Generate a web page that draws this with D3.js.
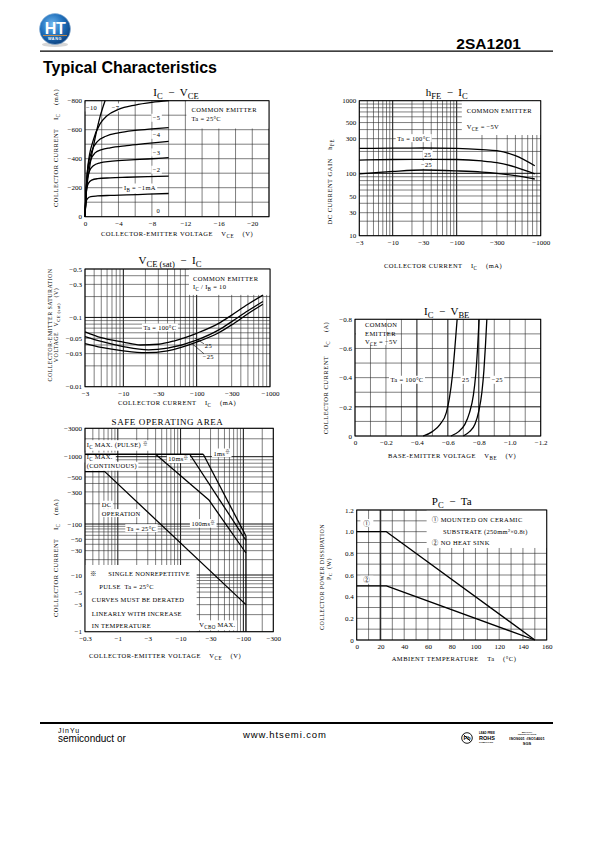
<!DOCTYPE html>
<html><head><meta charset="utf-8">
<script src="https://cdn.jsdelivr.net/npm/d3@7"></script>
<style>
body{margin:0;background:#fff}
svg{display:block;background:#fff}
text{font-family:"Liberation Serif","Noto Sans CJK JP",serif;fill:#000;white-space:pre}
text.sans{font-family:"Liberation Sans",Arial,sans-serif}
</style></head><body>
<svg id="page" width="595" height="842"></svg>
<script>
// ================= DATA =================
// Chart 1: IC - VCE  (VCE in V, IC in mA), Ta = 25°C
const icVceIB1  = [[0,0],[-0.1,-95],[-0.3,-125],[-0.7,-138],[-1.5,-143],[-3,-147],[-5,-150],[-7.5,-155],[-10,-160]];
const icVceIB2  = [[0,0],[-0.15,-170],[-0.4,-230],[-0.8,-252],[-1.5,-262],[-3,-268],[-5,-272],[-7.5,-276],[-10,-280]];
const icVceIB3  = [[0,0],[-0.2,-230],[-0.5,-310],[-1,-352],[-1.8,-372],[-3,-382],[-5,-390],[-7.5,-398],[-10,-407]];
const icVceIB4  = [[0,0],[-0.25,-280],[-0.6,-380],[-1.2,-440],[-2,-462],[-3,-475],[-5,-490],[-7.5,-505],[-10,-520]];
const icVceIB5  = [[0,0],[-0.3,-320],[-0.8,-450],[-1.5,-520],[-2.5,-555],[-4,-578],[-6,-595],[-8,-606],[-10,-615]];
const icVceIB7  = [[0,0],[-0.35,-350],[-1,-530],[-1.8,-640],[-2.6,-695],[-4,-740],[-6,-770],[-8,-788],[-10,-800]];
const icVceIB10 = [[0,0],[-0.15,-160],[-0.5,-320],[-1.2,-540],[-1.8,-690],[-2.4,-800]];
const icVceXTicks = [0,-4,-8,-12,-16,-20];
const icVceYTicks = [0,-200,-400,-600,-800];

// Chart 2: hFE - IC  (IC in mA), VCE = -5V
const hfeTa100 = [[-3,220],[-10,222],[-30,223],[-100,220],[-200,212],[-300,205],[-500,175],[-850,127]];
const hfeTa25  = [[-3,152],[-10,155],[-30,156],[-100,155],[-200,148],[-300,140],[-500,122],[-850,98]];
const hfeTaM25 = [[-3,98],[-10,106],[-30,111],[-100,108],[-200,104],[-300,100],[-500,93],[-850,84]];
const hfeXTicks = [-3,-10,-30,-100,-300,-1000];
const hfeYTicks = [1000,500,300,100,50,30,10];

// Chart 3: VCE(sat) - IC  (IC in mA, VCE in V), IC/IB = 10
const satTa100 = [[-3,-0.062],[-5,-0.051],[-10,-0.044],[-17,-0.040],[-30,-0.041],[-50,-0.046],[-100,-0.059],[-200,-0.082],[-300,-0.108],[-500,-0.155],[-800,-0.21]];
const satTa25  = [[-3,-0.053],[-5,-0.045],[-10,-0.038],[-22,-0.034],[-40,-0.036],[-100,-0.047],[-200,-0.066],[-300,-0.087],[-500,-0.125],[-800,-0.17]];
const satTaM25 = [[-3,-0.042],[-5,-0.037],[-10,-0.033],[-20,-0.031],[-40,-0.033],[-100,-0.044],[-200,-0.06],[-300,-0.078],[-500,-0.113],[-800,-0.155]];
const satXTicks = [-3,-10,-30,-100,-300,-1000];
const satYTicks = [-0.5,-0.3,-0.1,-0.05,-0.03,-0.01];

// Chart 4: IC - VBE  (VBE in V, IC in A), VCE = -5V
const vbeTa100 = [[-0.44,0],[-0.5,-0.03],[-0.55,-0.08],[-0.59,-0.16],[-0.61,-0.26],[-0.63,-0.42],[-0.645,-0.6],[-0.66,-0.8]];
const vbeTa25  = [[-0.62,0],[-0.67,-0.03],[-0.71,-0.08],[-0.74,-0.16],[-0.765,-0.28],[-0.78,-0.42],[-0.792,-0.6],[-0.802,-0.8]];
const vbeTaM25 = [[-0.70,0],[-0.74,-0.03],[-0.775,-0.08],[-0.8,-0.17],[-0.82,-0.3],[-0.833,-0.45],[-0.843,-0.62],[-0.852,-0.8]];
const vbeXTicks = [0,-0.2,-0.4,-0.6,-0.8,-1.0,-1.2];
const vbeYTicks = [0,-0.2,-0.4,-0.6,-0.8];

// Chart 5: Safe operating area (VCE in V, IC in mA)
const soaPulse = [[-0.3,-1100],[-23,-1100]];
const soa1ms   = [[-23,-1100],[-110,-58]];
const soa10ms  = [[-14,-1100],[-110,-48]];
const soa100ms = [[-4,-1100],[-28,-230],[-110,-27]];
const soaDC    = [[-0.3,-600],[-0.62,-600],[-110,-3]];
const soaVcbo  = [[-110,-58],[-110,-1]];
const soaXTicks = [-0.3,-1,-3,-10,-30,-100,-300];
const soaYTicks = [-3000,-1000,-500,-300,-100,-50,-30,-10,-5,-3,-1];

// Chart 6: PC - Ta (Ta in °C, PC in W)
const pcCeramic = [[0,1.0],[25,1.0],[150,0]];
const pcNoSink  = [[0,0.5],[25,0.5],[150,0]];
const pcXTicks = [0,20,40,60,80,100,120,140,160];
const pcYTicks = [0,0.2,0.4,0.6,0.8,1.0,1.2];

// ================= HELPERS =================
const page = d3.select("#page");
const MINUS = "\u2212";
const fmt  = v => v < 0 ? MINUS + Math.abs(v) : String(v);
const fmt1 = v => v === 0 ? "0" : (v < 0 ? MINUS : "") + Math.abs(v).toFixed(1);
const near = (a, arr) => arr.some(b => Math.abs(a - b) < 1e-9 * Math.max(1, Math.abs(b)));
function logGrid(lo, hi, sign){
  const out = [];
  for (let k = -3; k <= 4; k++) for (let m = 1; m < 10; m++){
    const v = +(m * Math.pow(10, k)).toPrecision(3);
    if (v >= lo * 0.999 && v <= hi * 1.001) out.push(sign * v);
  }
  return out;
}
function rich(g, x, y, parts, o = {}){
  const s = o.size || 6.5;
  const t = g.append("text").attr("x", x).attr("y", y).attr("font-size", s)
    .attr("text-anchor", o.anchor || "start");
  if (o.ls != null) t.attr("letter-spacing", o.ls);
  if (o.weight) t.attr("font-weight", o.weight);
  if (o.rotate) t.attr("transform", `rotate(-90 ${x} ${y})`);
  let cur = 0;
  parts.forEach(p => {
    if (typeof p === "string") p = {t: p};
    const ts = t.append("tspan").text(p.t);
    const off = p.sub ? s * 0.3 : p.sup ? -s * 0.4 : 0;
    if (off !== cur){ ts.attr("dy", off - cur); cur = off; }
    if (p.sub || p.sup) ts.attr("font-size", s * (p.scale || 0.78));
  });
  return t;
}
function makeChart(c){
  const xr = c.x.range(), yr = c.y.range();
  c.L = d3.min(xr); c.R = d3.max(xr); c.T = d3.min(yr); c.B = d3.max(yr);
  c.g = page.append("g");
  c.gGrid = c.g.append("g"); c.gBg = c.g.append("g"); c.gCurve = c.g.append("g"); c.gText = c.g.append("g");
  const majX = c.xMajor || c.xTicks, majY = c.yMajor || c.yTicks;
  c.gGrid.selectAll("line.gx").data(c.xGrid).join("line").attr("class","gx")
    .attr("x1", d => c.x(d)).attr("x2", d => c.x(d)).attr("y1", c.T).attr("y2", c.B)
    .attr("stroke", d => near(d, majX) ? "#000" : "#2a2a2a")
    .attr("stroke-width", d => (c.heavyX && near(d, c.heavyX)) ? 1.6 : near(d, majX) ? 0.95 : 0.6);
  c.gGrid.selectAll("line.gy").data(c.yGrid).join("line").attr("class","gy")
    .attr("y1", d => c.y(d)).attr("y2", d => c.y(d)).attr("x1", c.L).attr("x2", c.R)
    .attr("stroke", d => near(d, majY) ? "#000" : "#2a2a2a")
    .attr("stroke-width", d => near(d, majY) ? 0.95 : 0.6);
  c.g.append("rect").attr("x", c.L).attr("y", c.T).attr("width", c.R - c.L).attr("height", c.B - c.T)
    .attr("fill", "none").attr("stroke", "#000").attr("stroke-width", 1);
  const ax = c.g.append("g").attr("transform", `translate(0,${c.B})`)
    .call(d3.axisBottom(c.x).tickValues(c.xTicks).tickFormat(c.xFmt).tickSize(0).tickPadding(4));
  ax.select(".domain").remove(); ax.attr("font-size", 7);
  const ay = c.g.append("g").attr("transform", `translate(${c.L},0)`)
    .call(d3.axisLeft(c.y).tickValues(c.yTicks).tickFormat(c.yFmt).tickSize(0).tickPadding(3));
  ay.select(".domain").remove(); ay.attr("font-size", 7);
  return c;
}
const P = (c, fx, fy) => [c.L + fx * (c.R - c.L), c.T + fy * (c.B - c.T)];
function box(c, fx0, fy0, fx1, fy1){
  const [x0, y0] = P(c, fx0, fy0), [x1, y1] = P(c, fx1, fy1);
  c.gBg.append("rect").attr("x", x0).attr("y", y0).attr("width", x1 - x0).attr("height", y1 - y0).attr("fill", "#fff");
}
function lab(c, fx, fy, parts, o = {}){
  const [x, y] = P(c, fx, fy);
  const s = o.size || 6.5;
  const t = rich(c.gText, x, y + s * 0.35, parts, Object.assign({anchor: "middle", ls: 0.3}, o));
  if (o.bg !== false){
    const b = t.node().getBBox(), p = o.pad == null ? 1.5 : o.pad;
    c.gBg.append("rect").attr("x", b.x - p).attr("y", b.y - 0.5).attr("width", b.width + 2 * p)
      .attr("height", b.height + 1).attr("fill", "#fff");
  }
  return t;
}
function curve(c, data, kind){
  c.gCurve.append("path").datum(data)
    .attr("d", d3.line().x(d => c.x(d[0])).y(d => c.y(d[1])).curve(kind || d3.curveMonotoneX))
    .attr("fill", "none").attr("stroke", "#000").attr("stroke-width", 1.3).attr("stroke-linejoin", "round");
}
function leader(c, fx0, fy0, fx1, fy1){
  const [x0, y0] = P(c, fx0, fy0), [x1, y1] = P(c, fx1, fy1);
  c.gText.append("line").attr("x1", x0).attr("y1", y0).attr("x2", x1).attr("y2", y1).attr("stroke", "#000").attr("stroke-width", 0.6);
}
const TITLE = 11;

// ================= HEADER =================
const defs = page.append("defs");
const rg = defs.append("radialGradient").attr("id", "logoG").attr("cx", "40%").attr("cy", "35%").attr("r", "70%");
rg.append("stop").attr("offset", "0%").attr("stop-color", "#6fb6ee");
rg.append("stop").attr("offset", "55%").attr("stop-color", "#1f6fbb");
rg.append("stop").attr("offset", "100%").attr("stop-color", "#0b3d78");
page.append("ellipse").attr("cx", 55).attr("cy", 44.5).attr("rx", 13).attr("ry", 2.5).attr("fill", "#bbb").attr("opacity", 0.6);
page.append("circle").attr("cx", 55).attr("cy", 29).attr("r", 15.5).attr("fill", "url(#logoG)").attr("stroke", "#8fb4d8").attr("stroke-width", 0.6);
page.append("text").attr("class", "sans").attr("x", 55).attr("y", 33.5).attr("text-anchor", "middle")
  .attr("font-size", 16).attr("font-weight", "bold").attr("letter-spacing", -0.5).style("fill", "#fff").text("HT");
page.append("line").attr("x1", 43).attr("x2", 67).attr("y1", 35.5).attr("y2", 35.5).attr("stroke", "#e8943a").attr("stroke-width", 0.8);
page.append("text").attr("class", "sans").attr("x", 55).attr("y", 40.3).attr("text-anchor", "middle")
  .attr("font-size", 3.8).attr("font-weight", "bold").attr("letter-spacing", 0.6).style("fill", "#fff").text("WANG");
page.append("text").attr("class", "sans").attr("x", 521).attr("y", 49).attr("text-anchor", "end")
  .attr("font-size", 15.5).attr("font-weight", "bold").text("2SA1201");
page.append("line").attr("x1", 40).attr("x2", 553).attr("y1", 51.2).attr("y2", 51.2).attr("stroke", "#000").attr("stroke-width", 1.3);
page.append("text").attr("class", "sans").attr("x", 43).attr("y", 72.5)
  .attr("font-size", 16).attr("font-weight", "bold").text("Typical Characteristics");

// ================= CHART 1: IC - VCE =================
const c1 = makeChart({
  x: d3.scaleLinear().domain([0, -22]).range([85, 269]),
  y: d3.scaleLinear().domain([0, -800]).range([216.7, 100.7]),
  xTicks: icVceXTicks, yTicks: icVceYTicks, xMajor: [], yMajor: [],
  xGrid: d3.range(0, -22.01, -2), yGrid: d3.range(0, -800.1, -100), xFmt: fmt, yFmt: fmt
});
box(c1, 0.551, 0, 1, 0.24);
rich(c1.gText, ...P(c1, 0.579, 0.08 + 0.02), ["COMMON EMITTER"], {ls: 0.4});
rich(c1.gText, ...P(c1, 0.579, 0.158 + 0.02), ["Ta = 25°C"], {ls: 0.3});
lab(c1, 0.036, 0.06, [MINUS + "10"]);
lab(c1, 0.166, 0.06, [MINUS + "7"]);
lab(c1, 0.389, 0.149, [MINUS + "5"]);
lab(c1, 0.389, 0.296, [MINUS + "4"]);
lab(c1, 0.389, 0.448, [MINUS + "3"]);
lab(c1, 0.389, 0.597, [MINUS + "2"]);
lab(c1, 0.298, 0.75, ["I", {t: "B", sub: 1}, " = " + MINUS + "1mA"]);
lab(c1, 0.398, 0.951, ["0"]);
[icVceIB1, icVceIB2, icVceIB3, icVceIB4, icVceIB5, icVceIB7, icVceIB10].forEach(d => curve(c1, d));
rich(c1.g, 176, 96, ["I", {t: "C", sub: 1}, "  " + MINUS + "  V", {t: "CE", sub: 1}], {size: TITLE, anchor: "middle"});
rich(c1.g, 177, 236, ["COLLECTOR-EMITTER VOLTAGE    V", {t: "CE", sub: 1}, "    (V)"], {anchor: "middle", ls: 0.5});
rich(c1.g, 58.3, 148, ["COLLECTOR CURRENT    I", {t: "C", sub: 1}, "    (mA)"], {anchor: "middle", ls: 0.5, rotate: 1});

// ================= CHART 2: hFE - IC =================
const c2 = makeChart({
  x: d3.scaleLog().domain([-3, -10, -100, -1000]).range([359.3, 392.7, 456.7, 540.7]),
  y: d3.scaleLog().domain([10, 30, 100, 1000]).range([235.7, 212.7, 173.3, 100.7]),
  xTicks: hfeXTicks, yTicks: hfeYTicks, xMajor: [-10, -100], yMajor: [100],
  xGrid: logGrid(3, 1000, -1), yGrid: logGrid(10, 1000, 1), xFmt: fmt, yFmt: fmt
});
box(c2, 0.565, 0, 1, 0.254);
rich(c2.gText, ...P(c2, 0.592, 0.076 + 0.018), ["COMMON EMITTER"], {ls: 0.4});
rich(c2.gText, ...P(c2, 0.592, 0.193 + 0.018), ["V", {t: "CE", sub: 1}, " = " + MINUS + "5V"], {ls: 0.3});
lab(c2, 0.30, 0.279, ["Ta = 100°C"]);
lab(c2, 0.377, 0.397, ["25"]);
lab(c2, 0.371, 0.476, [MINUS + "25"]);
[hfeTa100, hfeTa25, hfeTaM25].forEach(d => curve(c2, d));
rich(c2.g, 446.7, 95.5, ["h", {t: "FE", sub: 1}, "  " + MINUS + "  I", {t: "C", sub: 1}], {size: TITLE, anchor: "middle"});
rich(c2.g, 443, 268, ["COLLECTOR CURRENT    I", {t: "C", sub: 1}, "    (mA)"], {anchor: "middle", ls: 0.5});
rich(c2.g, 332.3, 181.7, ["DC CURRENT GAIN    h", {t: "FE", sub: 1}], {anchor: "middle", ls: 0.5, rotate: 1});

// ================= CHART 3: VCE(sat) - IC =================
const c3 = makeChart({
  x: d3.scaleLog().domain([-3, -1000]).range([85, 270]),
  y: d3.scaleLog().domain([-0.01, -0.5]).range([386.7, 269]),
  xTicks: satXTicks, yTicks: satYTicks, xMajor: [-10, -100], yMajor: [-0.1],
  xGrid: logGrid(3, 1000, -1), yGrid: logGrid(0.01, 0.5, -1), xFmt: fmt, yFmt: fmt
});
box(c3, 0.562, 0, 1, 0.22);
rich(c3.gText, ...P(c3, 0.584, 0.079 + 0.02), ["COMMON EMITTER"], {ls: 0.4});
rich(c3.gText, ...P(c3, 0.584, 0.15 + 0.02), ["I", {t: "C", sub: 1}, " / I", {t: "B", sub: 1}, " = 10"], {ls: 0.3});
lab(c3, 0.405, 0.499, ["Ta = 100°C"]);
lab(c3, 0.667, 0.652, ["25"], {bg: false});
lab(c3, 0.667, 0.745, [MINUS + "25"], {bg: false});
leader(c3, 0.595, 0.589, 0.643, 0.635);
leader(c3, 0.577, 0.632, 0.643, 0.72);
[satTa100, satTa25, satTaM25].forEach(d => curve(c3, d));
rich(c3.g, 170, 264, ["V", {t: "CE (sat)", sub: 1}, "  " + MINUS + "  I", {t: "C", sub: 1}], {size: TITLE, anchor: "middle"});
rich(c3.g, 177, 405, ["COLLECTOR CURRENT    I", {t: "C", sub: 1}, "    (mA)"], {anchor: "middle", ls: 0.5});
rich(c3.g, 51.5, 325, ["COLLECTOR-EMITTER SATURATION"], {anchor: "middle", ls: 0.4, size: 6, rotate: 1});
rich(c3.g, 57.8, 325, ["VOLTAGE   V", {t: "CE (sat)", sub: 1}, "   (V)"], {anchor: "middle", ls: 0.4, size: 6, rotate: 1});

// ================= CHART 4: IC - VBE =================
const c4 = makeChart({
  x: d3.scaleLinear().domain([0, -1.2]).range([355, 540.7]),
  y: d3.scaleLinear().domain([0, -0.8]).range([436, 319.3]),
  xTicks: vbeXTicks, yTicks: vbeYTicks, xMajor: [-0.4, -0.6, -0.8], yMajor: [-0.2],
  xGrid: d3.range(0, 13).map(i => -i / 10), yGrid: d3.range(0, 9).map(i => -i / 10), xFmt: fmt1, yFmt: fmt1
});
box(c4, 0.005, 0, 0.167, 0.22);
rich(c4.gText, ...P(c4, 0.054, 0.049 + 0.02), ["COMMON"], {ls: 0.4});
rich(c4.gText, ...P(c4, 0.054, 0.12 + 0.02), ["EMITTER"], {ls: 0.4});
rich(c4.gText, ...P(c4, 0.054, 0.191 + 0.02), ["V", {t: "CE", sub: 1}, " = " + MINUS + "5V"], {ls: 0.3});
lab(c4, 0.28, 0.52, ["Ta = 100°C"]);
lab(c4, 0.596, 0.52, ["25"]);
lab(c4, 0.766, 0.52, [MINUS + "25"]);
[vbeTa100, vbeTa25, vbeTaM25].forEach(d => curve(c4, d));
rich(c4.g, 446.7, 314.5, ["I", {t: "C", sub: 1}, "  " + MINUS + "  V", {t: "BE", sub: 1}], {size: TITLE, anchor: "middle"});
rich(c4.g, 452, 458, ["BASE-EMITTER VOLTAGE    V", {t: "BE", sub: 1}, "    (V)"], {anchor: "middle", ls: 0.5});
rich(c4.g, 328.3, 378, ["COLLECTOR CURRENT    I", {t: "C", sub: 1}, "    (A)"], {anchor: "middle", ls: 0.5, rotate: 1});

// ================= CHART 5: SOA =================
const c5 = makeChart({
  x: d3.scaleLog().domain([-0.3, -300]).range([85, 273.3]),
  y: d3.scaleLog().domain([-1, -10, -100, -1000, -3000]).range([631.7, 575, 524, 456.7, 428.3]),
  xTicks: soaXTicks, yTicks: soaYTicks, xMajor: [-1, -10, -100], yMajor: [-1000, -100, -10],
  xGrid: logGrid(0.3, 300, -1), yGrid: logGrid(1, 3000, -1), xFmt: fmt, yFmt: fmt
});
box(c5, 0, 0.672, 0.593, 1);
lab(c5, 0.009, 0.082, ["I", {t: "C", sub: 1}, " MAX. (PULSE) ", {t: "※", sup: 1, scale: 0.7}], {anchor: "start"});
lab(c5, 0.009, 0.14, ["I", {t: "C", sub: 1}, " MAX."], {anchor: "start", pad: 3});
lab(c5, 0.009, 0.185, ["(CONTINUOUS)"], {anchor: "start"});
lab(c5, 0.496, 0.152, ["10ms", {t: "※", sup: 1, scale: 0.7}]);
lab(c5, 0.726, 0.123, ["1ms", {t: "※", sup: 1, scale: 0.7}]);
lab(c5, 0.089, 0.377, ["DC"], {anchor: "start"});
lab(c5, 0.089, 0.418, ["OPERATION"], {anchor: "start"});
lab(c5, 0.3, 0.492, ["Ta = 25°C"]);
lab(c5, 0.628, 0.47, ["100ms", {t: "※", sup: 1, scale: 0.7}]);
lab(c5, 0.027, 0.715, ["※"], {anchor: "start", bg: false});
lab(c5, 0.124, 0.715, ["SINGLE NONREPETITIVE"], {anchor: "start", bg: false});
lab(c5, 0.076, 0.78, ["PULSE  Ta = 25°C"], {anchor: "start", bg: false});
lab(c5, 0.036, 0.845, ["CURVES MUST BE DERATED"], {anchor: "start", bg: false});
lab(c5, 0.036, 0.91, ["LINEARLY WITH INCREASE"], {anchor: "start", bg: false});
lab(c5, 0.036, 0.97, ["IN TEMPERATURE"], {anchor: "start", bg: false});
lab(c5, 0.607, 0.965, ["V", {t: "CBO", sub: 1}, " MAX."], {anchor: "start"});
curve(c5, soaPulse, d3.curveLinear);
curve(c5, soa1ms, d3.curveLinear);
curve(c5, soa10ms, d3.curveLinear);
curve(c5, soa100ms, d3.curveLinear);
curve(c5, soaDC, d3.curveLinear);
curve(c5, soaVcbo, d3.curveLinear);
rich(c5.g, 167.5, 425, ["SAFE OPERATING AREA"], {size: 9, anchor: "middle", ls: 0.6});
rich(c5.g, 165, 658, ["COLLECTOR-EMITTER VOLTAGE    V", {t: "CE", sub: 1}, "    (V)"], {anchor: "middle", ls: 0.5});
rich(c5.g, 58.3, 558, ["COLLECTOR CURRENT    I", {t: "C", sub: 1}, "    (mA)"], {anchor: "middle", ls: 0.5, rotate: 1});

// ================= CHART 6: PC - Ta =================
const c6 = makeChart({
  x: d3.scaleLinear().domain([0, 160]).range([356.7, 546.7]),
  y: d3.scaleLinear().domain([0, 1.2]).range([640, 510]),
  xTicks: pcXTicks, yTicks: pcYTicks, xMajor: [], yMajor: [], heavyX: [20],
  xGrid: d3.range(0, 161, 10), yGrid: d3.range(0, 13).map(i => i / 10),
  xFmt: v => String(v), yFmt: v => v === 0 ? "0" : v.toFixed(1)
});
box(c6, 0.368, 0, 1, 0.292);
rich(c6.gText, ...P(c6, 0.395, 0.069 + 0.02), ["① MOUNTED ON CERAMIC"], {ls: 0.4});
rich(c6.gText, ...P(c6, 0.454, 0.162 + 0.02), ["SUBSTRATE (250mm²×0.8t)"], {ls: 0.3});
rich(c6.gText, ...P(c6, 0.395, 0.251 + 0.02), ["② NO HEAT SINK"], {ls: 0.4});
lab(c6, 0.053, 0.102, ["①"], {pad: 3});
lab(c6, 0.053, 0.538, ["②"], {pad: 3});
curve(c6, pcCeramic, d3.curveLinear);
curve(c6, pcNoSink, d3.curveLinear);
rich(c6.g, 451.7, 505, ["P", {t: "C", sub: 1}, "  " + MINUS + "  Ta"], {size: TITLE, anchor: "middle"});
rich(c6.g, 454, 661, ["AMBIENT TEMPERATURE    Ta    (°C)"], {anchor: "middle", ls: 0.5});
rich(c6.g, 324, 577, ["COLLECTOR POWER DISSIPATION"], {anchor: "middle", ls: 0.4, size: 6, rotate: 1});
rich(c6.g, 330.6, 569, ["P", {t: "C", sub: 1}, "  (W)"], {anchor: "middle", ls: 0.4, size: 6, rotate: 1});

// ================= FOOTER =================
page.append("line").attr("x1", 40).attr("x2", 553).attr("y1", 723).attr("y2", 723).attr("stroke", "#000").attr("stroke-width", 1.8);
page.append("text").attr("class", "sans").attr("x", 58).attr("y", 733).attr("font-size", 7).attr("letter-spacing", 1).text("JinYu");
page.append("text").attr("class", "sans").attr("x", 58).attr("y", 742).attr("font-size", 10).text("semiconduct or");
page.append("text").attr("class", "sans").attr("x", 243).attr("y", 737.5).attr("font-size", 9.5).attr("letter-spacing", 0.9).text("www.htsemi.com");
page.append("circle").attr("cx", 467).attr("cy", 738).attr("r", 5.3).attr("fill", "none").attr("stroke", "#000").attr("stroke-width", 0.9);
page.append("text").attr("class", "sans").attr("x", 467).attr("y", 740).attr("text-anchor", "middle").attr("font-size", 5.5).attr("font-weight", "bold").text("Pb");
page.append("line").attr("x1", 463.3).attr("y1", 734.3).attr("x2", 470.7).attr("y2", 741.7).attr("stroke", "#000").attr("stroke-width", 0.8);
[["LEAD FREE", 734, 2.8, "bold"], ["ROHS", 740, 5.5, "bold"], ["COMPLIANT", 743.3, 2.4, "bold"]].forEach(([t, y, s, w]) =>
  page.append("text").attr("class", "sans").attr("x", 479).attr("y", y).attr("font-size", s).attr("font-weight", w).text(t));
[["QUALITY", 732.5, 2.4], ["CERTIFICATION", 735.3, 2.4], ["ISO9001 :ISO14001", 739.8, 3.9], ["SGS", 744.5, 4]].forEach(([t, y, s]) =>
  page.append("text").attr("class", "sans").attr("x", 527).attr("y", y).attr("text-anchor", "middle").attr("font-size", s).attr("font-weight", "bold").text(t));
</script>
</body></html>
